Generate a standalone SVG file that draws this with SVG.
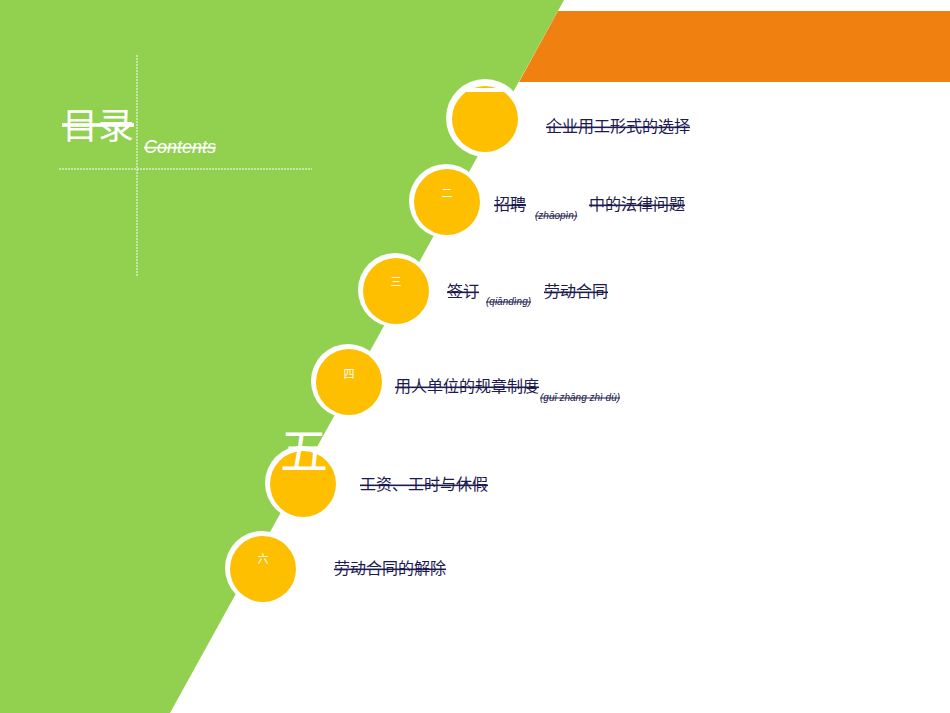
<svg xmlns="http://www.w3.org/2000/svg" width="950" height="713" viewBox="0 0 950 713">
<style>
.t{font-family:"Liberation Sans","Noto Sans CJK SC",sans-serif;font-size:16px;fill:#1c1a4e;text-decoration:line-through}
.p{font-family:"Liberation Sans","Noto Sans CJK SC",sans-serif;font-size:10px;font-style:italic;fill:#1c1a4e;text-decoration:line-through}
.ring{fill:#fff}
.c{fill:#fdbf00}
.n{font-family:"Noto Sans CJK SC",sans-serif;fill:#fff;text-anchor:middle;font-size:11px}
.big{font-family:"Noto Sans CJK SC",sans-serif;fill:#fff;text-anchor:middle;font-size:48px}
</style>
<rect width="950" height="713" fill="#fff"/>
<polygon points="0,0 564,0 170,713 0,713" fill="#92d050"/>
<polygon points="558,11 950,11 950,82 519,82" fill="#f0800f"/>
<g id="title">
<line x1="137" y1="55" x2="137" y2="276" stroke="#fff" stroke-dasharray="2,1" stroke-width="1"/>
<line x1="59" y1="169" x2="312" y2="169" stroke="#fff" stroke-dasharray="2,1" stroke-width="1"/>
<text x="62" y="139" font-family="Noto Sans CJK SC,sans-serif" font-size="36" fill="#fff" style="text-decoration:line-through">目录</text>
<text x="144" y="153" font-family="Liberation Sans,sans-serif" font-size="18" font-style="italic" fill="#fff" style="text-decoration:line-through">Contents</text>
</g>
<g id="item1"><circle class="ring" cx="485" cy="118" r="39"/><circle class="c" cx="485" cy="119" r="33"/><text class="big" x="487" y="108">一</text><text class="t" x="546" y="132">企业用工形式的选择</text></g>
<g id="item2"><circle class="ring" cx="446" cy="201" r="37"/><circle class="c" cx="447" cy="202" r="33"/><text class="n" x="447" y="197">二</text><text class="t" x="494" y="210">招聘</text><text class="p" x="535" y="219">(zhāopìn)</text><text class="t" x="589" y="210">中的法律问题</text></g>
<g id="item3"><circle class="ring" cx="395" cy="290" r="37"/><circle class="c" cx="396" cy="291" r="33"/><text class="n" x="396" y="286">三</text><text class="t" x="447" y="297">签订</text><text class="p" x="486" y="305">(qiāndìng)</text><text class="t" x="544" y="297">劳动合同</text></g>
<g id="item4"><circle class="ring" cx="348" cy="381" r="37"/><circle class="c" cx="349" cy="382" r="33"/><text class="n" x="349" y="378">四</text><text class="t" x="395" y="392">用人单位的规章制度</text><text class="p" x="540" y="401">(guī zhāng zhì dù)</text></g>
<g id="item5"><circle class="ring" cx="302" cy="483" r="37"/><circle class="c" cx="303" cy="484" r="33"/><text class="big" x="304" y="468">五</text><text class="t" x="360" y="490">工资、工时与休假</text></g>
<g id="item6"><circle class="ring" cx="262" cy="568" r="37"/><circle class="c" cx="263" cy="569" r="33"/><text class="n" x="263" y="563">六</text><text class="t" x="334" y="574">劳动合同的解除</text></g>
<g id="connectors"></g>
</svg>
